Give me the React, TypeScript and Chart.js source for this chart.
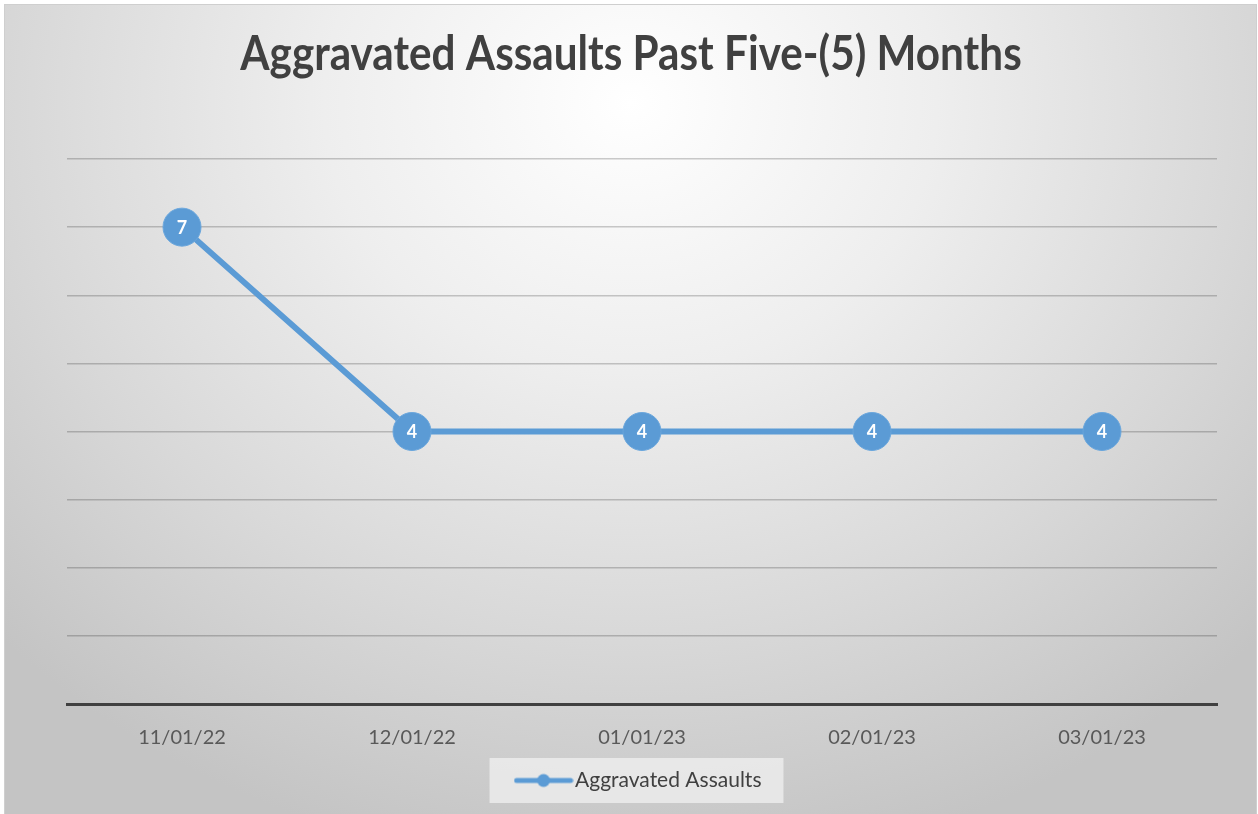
import React, { useEffect, useRef } from "react";
import { Chart, registerables } from "chart.js";

Chart.register(...registerables);

const titleText = "Aggravated Assaults Past Five-(5) Months";
const categories = ["11/01/22", "12/01/22", "01/01/23", "02/01/23", "03/01/23"];
const seriesName = "Aggravated Assaults";
const seriesValues = [7, 4, 4, 4, 4];
const yMin = 0;
const yMax = 8;

const BLUE = "#5b9bd5";
const FONT = "Lato, 'Open Sans', sans-serif";

function makeLegendSymbol(): HTMLCanvasElement {
  const c = document.createElement("canvas");
  c.width = 60;
  c.height = 16;
  const g = c.getContext("2d")!;
  g.strokeStyle = BLUE;
  g.lineWidth = 5;
  g.lineCap = "round";
  g.beginPath();
  g.moveTo(3, 8);
  g.lineTo(57, 8);
  g.stroke();
  g.fillStyle = BLUE;
  g.beginPath();
  g.arc(30, 8, 6.5, 0, Math.PI * 2);
  g.fill();
  return c;
}

const condensedTitle = {
  id: "condensedTitle",
  afterDraw(chart: any) {
    const ctx = chart.ctx;
    ctx.save();
    ctx.font = `bold 48px ${FONT}`;
    ctx.fillStyle = "#404040";
    ctx.textAlign = "center";
    ctx.textBaseline = "middle";
    const cx = chart.width / 2 + 2;
    ctx.translate(cx, 55);
    ctx.scale(0.88, 1);
    ctx.fillText(titleText, 0, 0);
    ctx.restore();
  },
};

const legendBox = {
  id: "legendBox",
  beforeDraw(chart: any) {
    const lg = chart.legend;
    if (!lg || !lg.legendHitBoxes || !lg.legendHitBoxes.length) return;
    const hb = lg.legendHitBoxes[0];
    const ctx = chart.ctx;
    ctx.save();
    ctx.fillStyle = "rgba(240,240,240,0.75)";
    ctx.fillRect(hb.left - 33, hb.top - 12, hb.width + 55, hb.height + 24);
    ctx.restore();
  },
};

const pointLabels = {
  id: "pointLabels",
  afterDatasetsDraw(chart: any) {
    const ctx = chart.ctx;
    const meta = chart.getDatasetMeta(0);
    const data = chart.data.datasets[0].data as number[];
    ctx.save();
    ctx.font = `bold 18px ${FONT}`;
    ctx.fillStyle = "#ffffff";
    ctx.textAlign = "center";
    ctx.textBaseline = "middle";
    meta.data.forEach((pt: any, i: number) => {
      ctx.fillText(String(data[i]), pt.x, pt.y + 1);
    });
    ctx.restore();
  },
};

export default function App() {
  const ref = useRef<HTMLCanvasElement | null>(null);

  useEffect(() => {
    document.body.style.margin = "0";
    if (!ref.current) return;
    const symbol = makeLegendSymbol();
    const chart = new Chart(ref.current, {
      type: "line",
      data: {
        labels: categories,
        datasets: [
          {
            label: seriesName,
            data: seriesValues,
            borderColor: BLUE,
            backgroundColor: BLUE,
            borderWidth: 6,
            pointRadius: 19,
            pointHoverRadius: 19,
            pointBackgroundColor: BLUE,
            pointBorderColor: "#6aa6dc",
            pointBorderWidth: 1,
            pointStyle: "circle",
            tension: 0,
          },
        ],
      },
      options: {
        animation: false,
        responsive: false,
        maintainAspectRatio: false,
        layout: { padding: { top: 159, left: 67, right: 41, bottom: 13 } },
        plugins: {
          title: { display: false },
          tooltip: { enabled: false },
          legend: {
            display: true,
            position: "bottom",
            labels: {
              usePointStyle: true,
              pointStyle: symbol as any,
              pointStyleWidth: 42,
              boxHeight: 16,
              color: "#404040",
              font: { family: FONT, size: 21 },
              padding: 10,
            },
          },
        },
        scales: {
          x: {
            offset: true,
            grid: { display: false, drawTicks: false },
            border: { display: true, color: "#404040", width: 3 },
            ticks: {
              color: "#595959",
              font: { family: FONT, size: 20 },
              padding: 22,
            },
            afterFit: (axis: any) => {
              axis.height -= 12;
            },
          },
          y: {
            min: yMin,
            max: yMax,
            ticks: { display: false, stepSize: 1 },
            border: { display: false },
            grid: {
              drawTicks: false,
              lineWidth: 1.5,
              color: (c: any) => (c.tick && c.tick.value === 0 ? "rgba(0,0,0,0)" : "rgba(0,0,0,0.2)"),
            },
          },
        },
      },
      plugins: [legendBox, pointLabels, condensedTitle],
    });
    return () => chart.destroy();
  }, []);

  return (
    <div style={{ position: "relative", width: 1258, height: 814, background: "#ffffff", overflow: "hidden" }}>
      <div
        style={{
          position: "absolute",
          left: 4,
          top: 4,
          width: 1251,
          height: 812,
          border: "1px solid #cfcfcf",
          background:
            "radial-gradient(ellipse 70% 95% at 50% 12%, #ffffff 0%, #eeeeee 35%, #d8d8d8 70%, #c4c4c4 100%)",
        }}
      />
      <canvas ref={ref} width={1258} height={814} style={{ position: "absolute", left: 0, top: 0 }} />
    </div>
  );
}
